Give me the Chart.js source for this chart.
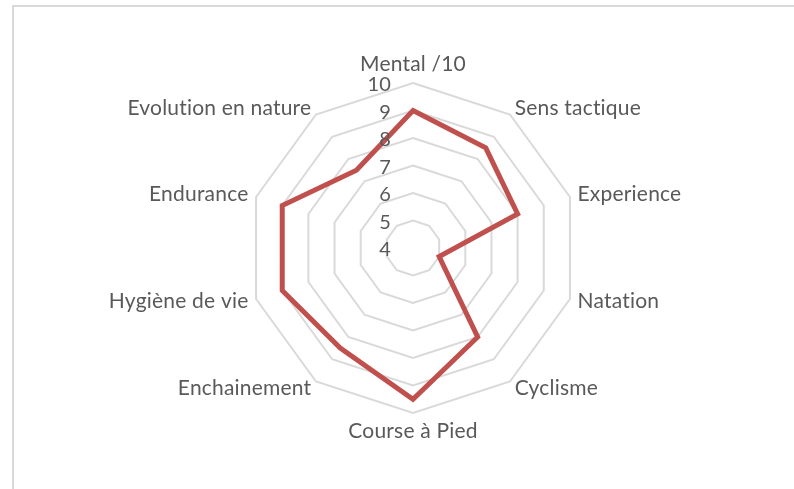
<!DOCTYPE html>
<html>
<head>
<meta charset="utf-8">
<script src="https://cdn.jsdelivr.net/npm/chart.js@4.4.0/dist/chart.umd.min.js"></script>
<style>
  html, body { margin: 0; padding: 0; background: #fff; }
  #wrap { position: relative; width: 794px; height: 489px; overflow: hidden; }
  #frame { position: absolute; left: 12px; top: 5px; width: 800px; height: 500px;
           border-left: 2px solid #d9d9d9; border-top: 2px solid #d9d9d9; }
  canvas { position: absolute; left: 0; top: 0; }
</style>
</head>
<body>
<div id="wrap">
  <div id="frame"></div>
  <canvas id="chartRadar" width="794" height="489"></canvas>
</div>
<script>
// --- Données ---
const categories = ['Mental /10', 'Sens tactique', 'Experience', 'Natation', 'Cyclisme',
                    'Course à Pied', 'Enchainement', 'Hygiène de vie', 'Endurance', 'Evolution en nature'];
const scores = [9, 8.5, 8, 5, 8, 9.5, 8.5, 9, 9, 7.5];
const tickValues = [4, 5, 6, 7, 8, 9, 10];

const textColor = '#595959';
const fontFamily = 'Lato, "Open Sans", sans-serif';

// Graduations à gauche de l'axe vertical + libellés des axes (style Excel)
const excelLabelsPlugin = {
    id: 'excelLabels',
    afterDatasetsDraw(chart) {
        const scale = chart.scales.r;
        const ctx = chart.ctx;
        ctx.save();
        ctx.fillStyle = textColor;
        ctx.textRendering = 'optimizeSpeed'; // pas de ligatures "ti"
        ctx.letterSpacing = '0.2px';

        // graduations
        ctx.font = '20px ' + fontFamily;
        ctx.textAlign = 'right';
        ctx.textBaseline = 'middle';
        tickValues.forEach(v => {
            const d = scale.getDistanceFromCenterForValue(v);
            ctx.fillText(String(v), scale.xCenter - 22, scale.yCenter - d + 2);
        });

        // libellés des axes
        ctx.font = '21px ' + fontFamily;
        categories.forEach((label, i) => {
            const p = scale.getPointPosition(i, scale.drawingArea + 8);
            const dx = p.x - scale.xCenter;
            if (Math.abs(dx) < 1) {
                ctx.textAlign = 'center';
                ctx.textBaseline = p.y < scale.yCenter ? 'bottom' : 'top';
            } else {
                ctx.textAlign = dx > 0 ? 'left' : 'right';
                ctx.textBaseline = 'middle';
            }
            ctx.fillText(label, p.x, p.y);
        });
        ctx.restore();
    }
};

new Chart(document.getElementById('chartRadar'), {
    type: 'radar',
    data: {
        labels: categories,
        datasets: [{
            label: 'Notes',
            data: scores,
            borderColor: '#c0504d',
            borderWidth: 5,
            fill: false,
            pointRadius: 0,
            pointHoverRadius: 0,
            borderJoinStyle: 'miter'
        }]
    },
    options: {
        responsive: false,
        animation: false,
        layout: { padding: { top: 83, bottom: 76, left: 248, right: 216 } },
        plugins: { legend: { display: false }, tooltip: { enabled: false } },
        scales: {
            r: {
                min: 4,
                max: 10,
                ticks: { display: false, stepSize: 1 },
                angleLines: { display: false },
                grid: { color: '#d9d9d9', lineWidth: 2 },
                pointLabels: { display: false }
            }
        }
    },
    plugins: [excelLabelsPlugin]
});
</script>
</body>
</html>
